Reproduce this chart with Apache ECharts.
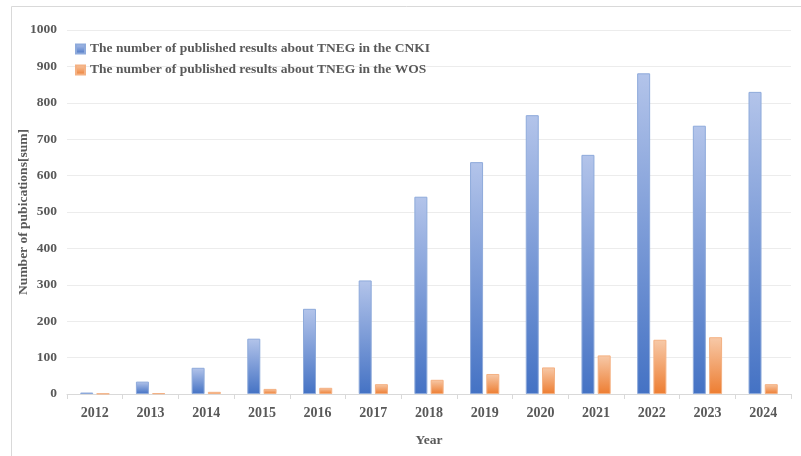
<!DOCTYPE html>
<html>
<head>
<meta charset="utf-8">
<script src="https://cdn.jsdelivr.net/npm/echarts@6/dist/echarts.min.js"></script>
<style>
  html, body { margin: 0; padding: 0; background: #fff; }
  #main { width: 801px; height: 456px; }
</style>
</head>
<body>
<div id="main"></div>
<script>
  // data
  var years = ['2012', '2013', '2014', '2015', '2016', '2017', '2018', '2019', '2020', '2021', '2022', '2023', '2024'];
  var cnki = [4, 34, 72, 152, 234, 312, 542, 637, 766, 657, 881, 737, 830];
  var wos = [1, 2, 6, 14, 17, 27, 39, 55, 73, 106, 149, 156, 27];
  var yTicks = [0, 100, 200, 300, 400, 500, 600, 700, 800, 900, 1000];

  var nameCnki = 'The number of published results about TNEG in the CNKI';
  var nameWos = 'The number of published results about TNEG in the WOS';

  var font = '"Liberation Serif", "Times New Roman", serif';
  var grey = '#595959';

  var myChart = echarts.init(document.getElementById('main'));

  var option = {
    animation: false,
    color: ['#4472c4', '#ed7d31'],
    graphic: [{
      type: 'rect',
      left: 9,
      top: 4,
      shape: { width: 820, height: 470 },
      style: { fill: 'none', stroke: '#d9d9d9', lineWidth: 1 },
      silent: true
    }],
    legend: {
      orient: 'vertical',
      left: 70,
      top: 37,
      itemWidth: 9,
      itemHeight: 9,
      itemGap: 7,
      icon: 'rect',
      textStyle: { fontFamily: font, fontWeight: 'bold', fontSize: 13.5, color: grey },
      data: [nameCnki, nameWos]
    },
    grid: {
      left: 67,
      right: 10,
      top: 30,
      bottom: 62,
      containLabel: false,
      outerBoundsMode: 'none'
    },
    xAxis: {
      type: 'category',
      data: years,
      name: 'Year',
      nameLocation: 'middle',
      nameGap: 40,
      nameMoveOverlap: false,
      nameTextStyle: { fontFamily: font, fontWeight: 'bold', fontSize: 13.5, color: grey },
      axisLine: { lineStyle: { color: '#d9d9d9' } },
      axisTick: { show: true, length: 5, lineStyle: { color: '#d9d9d9' } },
      axisLabel: { fontFamily: font, fontWeight: 'bold', fontSize: 14, color: grey, margin: 12 }
    },
    yAxis: {
      type: 'value',
      min: yTicks[0],
      max: yTicks[yTicks.length - 1],
      interval: yTicks[1] - yTicks[0],
      name: 'Number of pubications[sum]',
      nameLocation: 'middle',
      nameGap: 36,
      nameMoveOverlap: false,
      nameTextStyle: { fontFamily: font, fontWeight: 'bold', fontSize: 13.5, color: grey },
      axisLine: { show: false },
      axisTick: { show: false },
      axisLabel: {
        fontFamily: font, fontWeight: 'bold', fontSize: 13.5, color: grey, margin: 10,
        formatter: function (v) { return String(v); }
      },
      splitLine: { lineStyle: { color: '#ececec' } }
    },
    series: [
      {
        name: nameCnki,
        type: 'bar',
        data: cnki,
        barWidth: 13,
        barGap: '25%',
        itemStyle: {
          color: new echarts.graphic.LinearGradient(0, 0, 0, 1, [
            { offset: 0, color: '#b3c4ea' },
            { offset: 1, color: '#4472c4' }
          ]),
          borderColor: '#8eaadb',
          borderWidth: 1
        }
      },
      {
        name: nameWos,
        type: 'bar',
        data: wos,
        barWidth: 13,
        itemStyle: {
          color: new echarts.graphic.LinearGradient(0, 0, 0, 1, [
            { offset: 0, color: '#f7c9a8' },
            { offset: 1, color: '#ed7d31' }
          ]),
          borderColor: '#f4b183',
          borderWidth: 1
        }
      }
    ]
  };
  myChart.setOption(option);
</script>
</body>
</html>
